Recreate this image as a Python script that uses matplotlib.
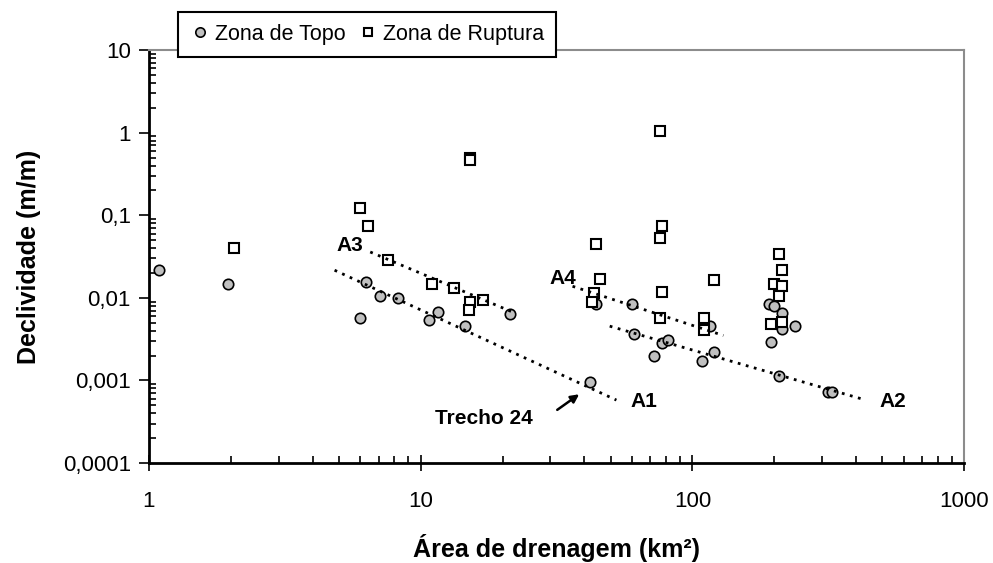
import matplotlib.pyplot as plt
from matplotlib.ticker import LogLocator, NullFormatter

plt.rcParams['font.family'] = ['Liberation Sans', 'DejaVu Sans']

# drainage area (km2) and slope (m/m) for the two zones
topo_x = [1.09, 1.96, 6.30, 7.10, 8.28, 5.99, 10.7, 11.6, 14.5, 21.3,
          41.9, 44.1, 59.7, 60.9, 72.1, 77.4, 81.4, 108, 120, 115.6,
          192, 199, 195, 213, 213, 239, 209, 315, 326]
topo_y = [0.0216, 0.0146, 0.0155, 0.0105, 0.0100, 0.0057, 0.0054, 0.0067, 0.0045, 0.0063,
          0.00095, 0.0084, 0.0084, 0.0036, 0.0020, 0.0028, 0.0031, 0.0017, 0.0022, 0.0045,
          0.0085, 0.0079, 0.0029, 0.0065, 0.0042, 0.0045, 0.00113, 0.00072, 0.00072]

rupt_x = [2.06, 5.99, 6.41, 7.59, 11.0, 13.3, 15.2, 15.0, 16.9, 15.2,
          15.2, 75.7, 77, 75.7, 44.1, 45.6, 43.4, 42.6, 77, 75.7,
          120, 110, 110, 209, 213, 199, 213, 209, 195, 213]
rupt_y = [0.0398, 0.121, 0.0735, 0.0285, 0.0146, 0.0131, 0.0089, 0.0071, 0.0094, 0.49,
          0.46, 1.06, 0.0735, 0.0536, 0.0445, 0.0171, 0.0113, 0.0089, 0.0117, 0.0057,
          0.0163, 0.0057, 0.0041, 0.0337, 0.0216, 0.0146, 0.0138, 0.0105, 0.0048, 0.0051]

# power-law trend segments (start, end)
trend_names = ['A1', 'A2', 'A3', 'A4']
trend_x = [(4.82, 52.5), (49.6, 426), (6.52, 21.7), (36.2, 130)]
trend_y = [(0.0216, 0.000578), (0.00454, 0.000589), (0.0359, 0.00676), (0.0138, 0.0035)]
label_x = [66.3, 545, 5.47, 33.4]
label_y = [0.00055, 0.00055, 0.0433, 0.0173]

yticks = [0.0001, 0.001, 0.01, 0.1, 1, 10]
ytick_labels = ['0,0001', '0,001', '0,01', '0,1', '1', '10']
xticks = [1, 10, 100, 1000]
xtick_labels = ['1', '10', '100', '1000']

fig = plt.figure(figsize=(9.93, 5.63), dpi=100)
ax = fig.add_axes([0.150, 0.1776, 0.821, 0.7335])

ax.plot(topo_x, topo_y, 'o', ms=7.5, mfc='#c0c0c0', mec='black', mew=1.2,
        ls='none', label='Zona de Topo', zorder=3)
ax.plot(rupt_x, rupt_y, 's', ms=7, mfc='white', mec='black', mew=1.5,
        ls='none', label='Zona de Ruptura', zorder=4)

for name, tx, ty, lx, ly in zip(trend_names, trend_x, trend_y, label_x, label_y):
    ax.plot(tx, ty, color='black', ls=(0, (1, 2)), lw=2, zorder=5)
    ax.text(lx, ly, name, fontsize=15, fontweight='bold', ha='center', va='center')

ax.text(17.1, 0.00035, 'Trecho 24', fontsize=15, fontweight='bold',
        ha='center', va='center')
ax.annotate('', xy=(38.3, 0.00068), xytext=(31.8, 0.00044),
            arrowprops=dict(arrowstyle='-|>', color='black', lw=1.8,
                            shrinkA=0, shrinkB=0, mutation_scale=12))

ax.set_xscale('log')
ax.set_yscale('log')
ax.set_xlim(1, 1000)
ax.set_ylim(0.0001, 10)

ax.set_xticks(xticks, labels=xtick_labels)
ax.set_yticks(yticks, labels=ytick_labels)
ax.xaxis.set_minor_locator(LogLocator(base=10, subs=range(2, 10)))
ax.yaxis.set_minor_locator(LogLocator(base=10, subs=range(2, 10)))
ax.xaxis.set_minor_formatter(NullFormatter())
ax.yaxis.set_minor_formatter(NullFormatter())

ax.tick_params(axis='x', which='major', direction='inout', length=12, width=1.2,
               labelsize=16, pad=14)
ax.tick_params(axis='y', which='major', direction='out', length=7, width=1.2,
               labelsize=16, pad=6)
ax.tick_params(which='minor', direction='in', length=5, width=1.2)

for side in ['left', 'bottom']:
    ax.spines[side].set_color('black')
    ax.spines[side].set_linewidth(2)
for side in ['top', 'right']:
    ax.spines[side].set_color('#8c8c8c')
    ax.spines[side].set_linewidth(1.5)

ax.set_xlabel('Área de drenagem (km²)', fontsize=18, fontweight='bold', labelpad=16)
ax.set_ylabel('Declividade (m/m)', fontsize=18, fontweight='bold', labelpad=16)

leg = fig.legend(loc='upper left', bbox_to_anchor=(0.179, 0.979), ncol=2,
                 fontsize=15.5, frameon=True, fancybox=False, framealpha=1,
                 edgecolor='black', handletextpad=0.2, columnspacing=0.5,
                 borderpad=0.55, borderaxespad=0, handlelength=1.0,
                 markerscale=0.9)
leg.get_frame().set_linewidth(1.5)

fig.savefig('out.png', dpi=100)
